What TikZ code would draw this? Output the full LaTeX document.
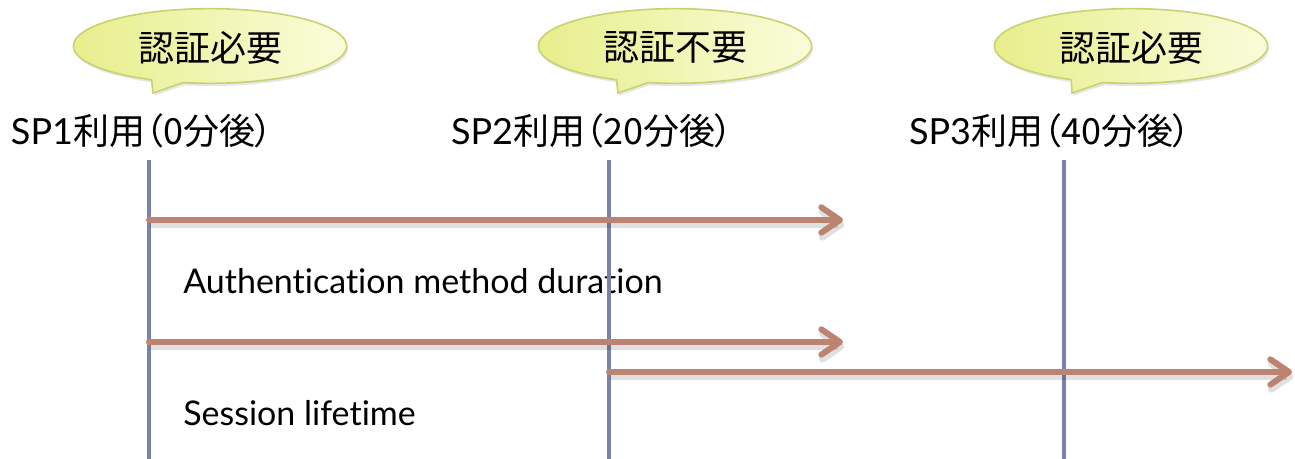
\documentclass[tikz,border=0pt]{standalone}
\usepackage{fontspec}
\setmainfont{Lato}[RawFeature={-liga;-dlig}]
\newfontfamily\jp{Noto Sans CJK JP}[RawFeature=+palt]
\usetikzlibrary{arrows.meta,shapes.callouts,shadows}
\definecolor{vline}{RGB}{122,130,170}
\definecolor{arr}{RGB}{188,132,112}
\definecolor{bubA}{RGB}{232,238,140}
\definecolor{bubB}{RGB}{250,252,218}
\definecolor{bubE}{RGB}{200,210,110}
\tikzset{
  lifeline/.style={draw=vline, line width=3pt},
  span/.style={draw=arr, line width=4.5pt, line cap=round,
    -{Straight Barb[length=14pt,width=19pt,round]},
    preaction={draw=black, opacity=0.12, line width=5pt,
      transform canvas={shift={(1pt,-3.5pt)}}}},
  bubble/.style={ellipse callout, draw=bubE, line width=1.2pt,
    left color=bubA, right color=bubB,
    minimum width=205pt, minimum height=56pt, inner sep=0pt,
    callout pointer arc=14,
    drop shadow={opacity=0.2, shadow xshift=1pt, shadow yshift=-2pt},
    font=\jp\fontsize{27pt}{32pt}\selectfont},
  lbl/.style={font=\fontsize{27pt}{31pt}\selectfont, inner sep=0pt},
  note/.style={font=\fontsize{25.5pt}{30pt}\selectfont, inner sep=0pt, anchor=west}
}
\begin{document}
\begin{tikzpicture}[x=0.75pt,y=-0.75pt]
\useasboundingbox (0,0) rectangle (1295,459);
% labels
\node[lbl] (l1) at (142,131) {SP1{\jp 利用（0分後）}};
\node[lbl] (l2) at (592,131) {SP2{\jp 利用（20分後）}};
\node[lbl] (l3) at (1050,131) {SP3{\jp 利用（40分後）}};
% pointer targets
\coordinate (p1) at (153,93);
\coordinate (p2) at (618,93);
\coordinate (p3) at (1072,93);
% callouts
\node[bubble, callout absolute pointer={(p1)}, text depth=0pt] (c1) at (210,46) {認証必要};
\node[bubble, callout absolute pointer={(p2)}, text depth=0pt] (c2) at (675,46) {認証不要};
\node[bubble, callout absolute pointer={(p3)}, text depth=0pt] (c3) at (1131,46) {認証必要};
% notes
\node[note] (n1) at (183,281) {Authentication method duration};
\node[note] (n2) at (183,413) {Session lifetime};
% lifelines
\coordinate (t1) at (149,160); \coordinate (b1) at (149,459);
\coordinate (t2) at (609,160); \coordinate (b2) at (609,459);
\coordinate (t3) at (1064,160); \coordinate (b3) at (1064,459);
\draw[lifeline] (t1) -- (b1);
\draw[lifeline] (t2) -- (b2);
\draw[lifeline] (t3) -- (b3);
% spans
\coordinate (s1) at (149,220); \coordinate (e1) at (843,220);
\coordinate (s2) at (149,342); \coordinate (e2) at (843,342);
\coordinate (s3) at (609,372); \coordinate (e3) at (1292,372);
\draw[span] (s1) -- (e1);
\draw[span] (s2) -- (e2);
\draw[span] (s3) -- (e3);
\end{tikzpicture}
\end{document}
